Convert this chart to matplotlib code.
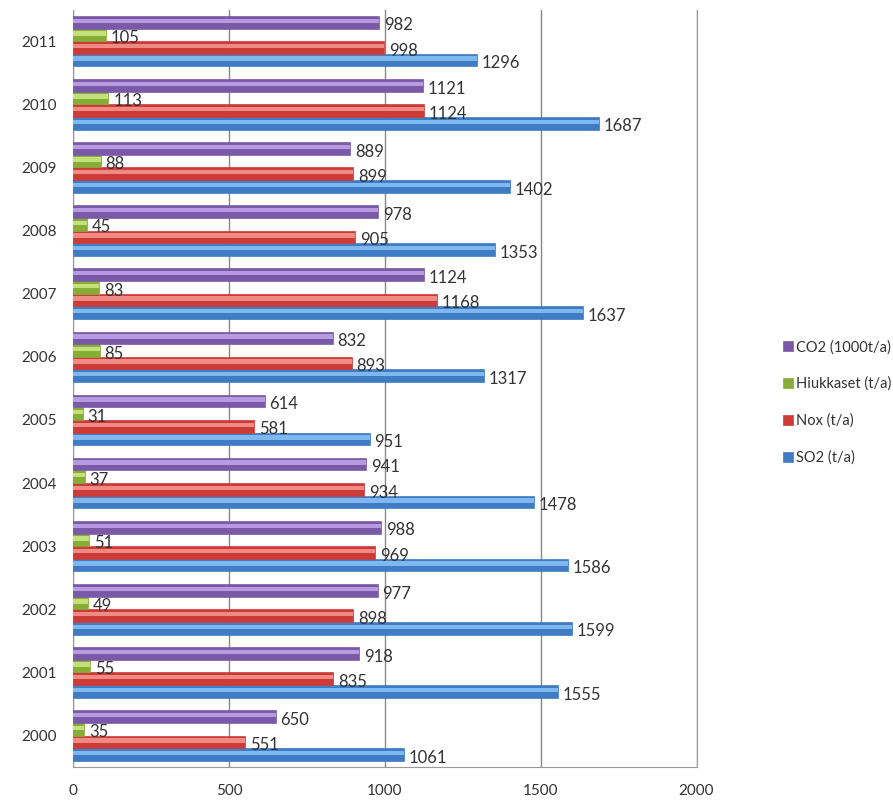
import matplotlib
matplotlib.use("Agg")
import matplotlib.pyplot as plt
import numpy as np

years = ["2000", "2001", "2002", "2003", "2004", "2005", "2006", "2007", "2008", "2009", "2010", "2011"]
so2 = [1061, 1555, 1599, 1586, 1478, 951, 1317, 1637, 1353, 1402, 1687, 1296]
nox = [551, 835, 898, 969, 934, 581, 893, 1168, 905, 899, 1124, 998]
hiukkaset = [35, 55, 49, 51, 37, 31, 85, 83, 45, 88, 113, 105]
co2 = [650, 918, 977, 988, 941, 614, 832, 1124, 978, 889, 1121, 982]
series_names = ["SO2 (t/a)", "Nox (t/a)", "Hiukkaset (t/a)", "CO2 (1000t/a)"]
xticks = [0, 500, 1000, 1500, 2000]

plt.rcParams['font.family'] = ['Lato', 'DejaVu Sans']

colors = ["#3f7cc4", "#cc3b38", "#86ad35", "#7a5aa6"]
light = ["#7fb8ee", "#f08a85", "#c3e07a", "#b79be0"]

fig = plt.figure(figsize=(8.93, 8.05), dpi=100)
ax = fig.add_axes([0.082, 0.047, 0.698, 0.941])

y = np.arange(len(years))
h = 0.2
offsets = [-0.3, -0.1, 0.1, 0.3]
data = [so2, nox, hiukkaset, co2]
handles = []
for vals, off, c, lc, name in zip(data, offsets, colors, light, series_names):
    b = ax.barh(y + off, vals, height=h, color=c, edgecolor=c, linewidth=0.5, label=name, zorder=3)
    ax.barh(y + off + h * 0.12, vals, height=h * 0.35, color=lc, linewidth=0, zorder=4)
    handles.append(b)
    for yi, v in zip(y, vals):
        ax.text(v + 15, yi + off - 0.05, str(v), va='center', ha='left', fontsize=12,
                color='#333333', zorder=5)

ax.set_xlim(0, 2000)
ax.set_ylim(-0.5, 11.5)
ax.set_yticks(y)
ax.set_yticklabels(years, fontsize=11, color='#333333')
ax.set_xticks(xticks)
ax.set_xticklabels([str(t) for t in xticks], fontsize=11, color='#333333')
ax.tick_params(axis='both', length=0)
ax.tick_params(axis='x', pad=12)
ax.tick_params(axis='y', pad=12)
ax.xaxis.grid(True, color='#888888', linewidth=1, zorder=0)
ax.set_axisbelow(True)
for s in ['left', 'bottom', 'right']:
    ax.spines[s].set_color('#999999')
ax.spines['top'].set_visible(False)

leg = fig.legend(handles[::-1], series_names[::-1], loc='center left',
                 bbox_to_anchor=(0.862, 0.5), frameon=False, fontsize=10.5,
                 handlelength=0.7, handleheight=0.7, handletextpad=0.2,
                 labelspacing=1.55)
for t in leg.get_texts():
    t.set_color('#333333')

fig.savefig("out.png", dpi=100)
